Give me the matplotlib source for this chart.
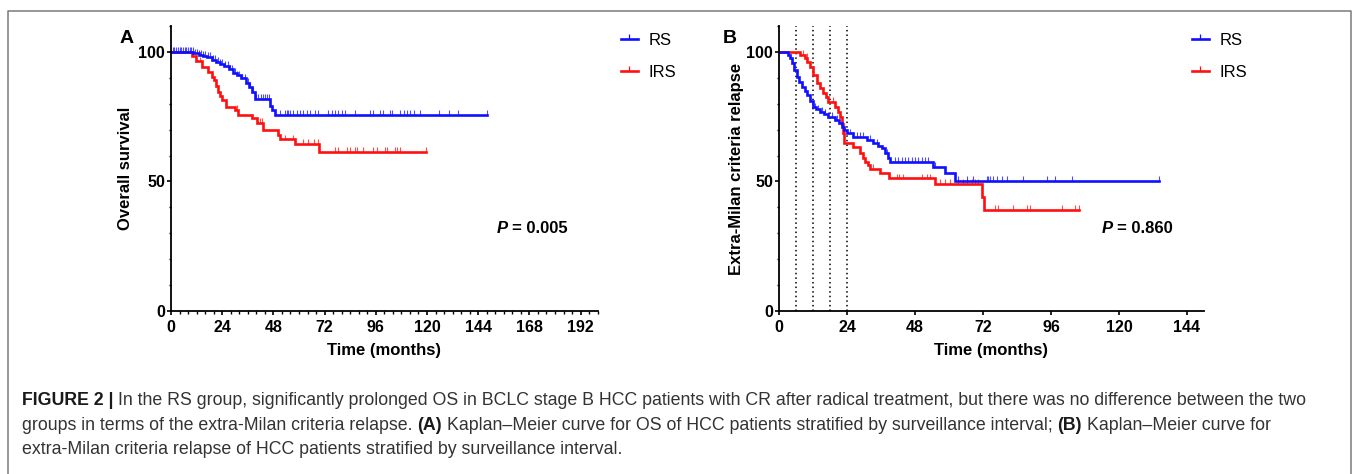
import numpy as np
import matplotlib
matplotlib.use('Agg')
import matplotlib.pyplot as plt
from matplotlib.lines import Line2D
from matplotlib.path import Path
from matplotlib.ticker import MultipleLocator
from matplotlib.transforms import IdentityTransform

plt.rcParams['font.family'] = ['Liberation Sans', 'DejaVu Sans']

W, H = 1357, 474

# (A) overall survival: Kaplan-Meier step times (months) and survival (%)
os_rs_t = [0, 10.5, 13, 15, 17, 19, 21, 23, 25, 27, 29, 31, 33, 35, 36.5, 38, 39.5, 46.5, 47.5, 48.8]
os_rs_v = [100, 99.5, 99, 98.5, 98, 97, 96.2, 95.5, 94.5, 93.3, 92, 91, 89.8, 88, 86.5, 84.5, 82, 79, 77.5, 75.7]
os_rs_end = 148.0
os_rs_cens = [0.8, 1.6, 2.4, 3.2, 4.0, 4.8, 5.6, 6.4, 7.2, 8.0, 8.8, 9.6, 10.4, 11.2, 12.0, 13.0,
              14.0, 15.0, 16.0, 17.5, 18.5, 19.5, 20.5, 22.0, 23.0, 24.0, 25.5, 26.5, 27.5, 28.5,
              30.0, 31.0, 32.0, 33.5, 34.5, 36.0, 37.0, 38.5, 40.0, 41.0, 42.0, 43.0, 44.0, 45.0,
              46.0, 51.1, 53.4, 54.2, 55.0, 55.8, 57.4, 58.9, 60.5, 62.1, 63.6, 65.2, 67.5, 69.1,
              73.8, 75.3, 76.9, 78.4, 80.0, 81.6, 86.3, 93.3, 94.9, 98.0, 99.6, 102.7, 103.5, 107.4,
              109.0, 110.5, 112.1, 113.7, 116.8, 125.4, 130.1, 134.7, 148.0]

os_irs_t = [0, 10, 11.5, 14.5, 17.5, 19, 20, 21, 22, 23, 24, 26, 30, 31.6, 37.8, 40.2, 43.3, 50.3,
            51, 58.1, 69.5]
os_irs_v = [100, 98.5, 96.3, 94.3, 92.4, 90.5, 89, 87, 84.7, 83, 81.5, 78.6, 77.6, 75.7, 74.4, 72.5,
            69.9, 68, 66.3, 64.5, 61.5]
os_irs_end = 119.5
os_irs_cens = [11.7, 13.6, 30.8, 41.7, 42.5, 50.3, 53.4, 57.4, 62.1, 64.4, 66.8, 69.1, 76.9, 78.4,
               82.3, 83.9, 86.3, 87.0, 90.2, 94.9, 96.4, 100.3, 101.1, 105.0, 105.8, 107.4, 119.5]

# (B) extra-Milan criteria relapse
em_rs_t = [0, 3.3, 4, 4.5, 5.3, 6.2, 7, 8, 9, 9.8, 11, 12.1, 13, 14.5, 16, 17.4, 19.8, 21, 22.1, 23,
           23.9, 26.2, 30.9, 33.3, 35, 36.2, 37.4, 38.3, 39.2, 54.5, 58.6, 62.2]
em_rs_v = [100, 98.8, 97.5, 95.6, 93, 90.5, 88.5, 86.6, 85, 83.4, 81, 78.6, 77.8, 77, 76, 75, 73.7,
           72.5, 71.2, 70, 68.6, 67.3, 66, 64.7, 63.8, 62.8, 60.9, 59.2, 57.6, 55.7, 53.2, 50.3]
em_rs_end = 134.2
em_rs_cens = [12.7, 13.9, 15.1, 16.2, 17.4, 18.6, 20.4, 25.1, 26.2, 27.4, 28.6, 29.8, 32.1, 34.5,
              38.0, 40.9, 42.1, 43.3, 44.5, 45.7, 46.8, 48.0, 49.2, 50.4, 51.5, 52.7, 55.1, 58.6,
              63.3, 66.3, 68.6, 73.3, 73.9, 74.5, 75.7, 76.9, 78.6, 80.4, 86.2, 94.5, 97.4, 103.3,
              134.2]

em_irs_t = [0, 7.4, 9.2, 10, 11, 12.1, 13.3, 14.5, 15.6, 16.5, 17.4, 19.8, 20.7, 21.5, 22.2, 22.7,
            23, 26.2, 28.6, 29.5, 30.4, 31.3, 32.2, 35.8, 38.7, 55.1, 71.6, 72.4]
em_irs_v = [100, 99, 97.6, 96, 94.3, 91.1, 87.9, 86, 84, 82.5, 80.8, 78.9, 77, 75, 72, 68.6, 64.7,
            63.4, 60.9, 59.2, 57.6, 56.2, 55, 53.2, 51.2, 49, 44.1, 39]
em_irs_end = 106.0
em_irs_cens = [8.6, 9.8, 12.1, 14.5, 19.2, 33.3, 41.5, 42.5, 43.9, 50.4, 52.1, 53.3, 56.8, 58.6,
               60.4, 63.3, 65.1, 66.3, 68.0, 69.2, 70.4, 76.2, 77.4, 82.7, 87.4, 88.6, 99.8, 104.5,
               106.0]

surveil_lines = [6, 12, 18, 24]

group_names = ['RS', 'IRS']
blue, red = '#1010ff', '#ff1010'


def km(ax, t, v, t_end, cens, color):
    tt = np.array(t + [t_end])
    vv = np.array(v + [v[-1]])
    ax.step(tt, vv, where='post', color=color, lw=1.9, solid_joinstyle='miter')
    idx = np.searchsorted(np.array(t), np.array(cens), side='right') - 1
    lev = np.array(v)[idx]
    ax.vlines(cens, lev, lev + 1.8, color=color, lw=0.8, alpha=0.75)


def style_axes(ax, xmax, xmajor, xminor):
    ax.set_xlim(0, xmax)
    ax.set_ylim(0, 110)
    for s in ['top', 'right']:
        ax.spines[s].set_visible(False)
    for s in ['left', 'bottom']:
        ax.spines[s].set_linewidth(1.3)
    ax.set_xticks(np.arange(0, xmax, xmajor))
    if xminor:
        ax.xaxis.set_minor_locator(MultipleLocator(xminor))
    ax.set_yticks([0, 50, 100])
    ax.yaxis.set_minor_locator(MultipleLocator(10))
    ax.tick_params(which='major', length=3.2, width=1.2, labelsize=11.5, direction='out')
    ax.tick_params(which='minor', length=1.8, width=1.0, direction='out')
    ax.tick_params(axis='y', pad=1)
    ax.tick_params(axis='x', pad=3)
    for lab in ax.get_xticklabels() + ax.get_yticklabels():
        lab.set_fontweight('bold')


tick_up = Path([(0, 0), (0, 1)], [Path.MOVETO, Path.LINETO])


def legend(ax, x, y):
    hs = [Line2D([], [], color=blue, lw=1.9, marker=tick_up, markersize=7, markeredgewidth=0.9),
          Line2D([], [], color=red, lw=1.9, marker=tick_up, markersize=7, markeredgewidth=0.9)]
    ax.legend(hs, group_names, loc='upper left', bbox_to_anchor=(x / W, 1 - y / H),
              bbox_transform=ax.figure.transFigure, frameon=False, fontsize=12,
              handlelength=1.0, handletextpad=0.65, labelspacing=1.0, borderpad=0,
              borderaxespad=0)


fig = plt.figure(figsize=(W / 100, H / 100), dpi=100)
axA = fig.add_axes([171 / W, 1 - 311 / H, 426.7 / W, 285 / H])
axB = fig.add_axes([779 / W, 1 - 311 / H, 425 / W, 285 / H])

km(axA, os_irs_t, os_irs_v, os_irs_end, os_irs_cens, red)
km(axA, os_rs_t, os_rs_v, os_rs_end, os_rs_cens, blue)
style_axes(axA, 200, 24, 4)
axA.set_xlabel('Time (months)', fontsize=12, fontweight='bold', labelpad=6)
axA.set_ylabel('Overall survival', fontsize=12, fontweight='bold', labelpad=4)
legend(axA, 621, 33)

for xv in surveil_lines:
    axB.axvline(xv, color='black', lw=1.1, ls=(0, (1, 2)))
km(axB, em_irs_t, em_irs_v, em_irs_end, em_irs_cens, red)
km(axB, em_rs_t, em_rs_v, em_rs_end, em_rs_cens, blue)
style_axes(axB, 150, 24, None)
axB.set_xlabel('Time (months)', fontsize=12, fontweight='bold', labelpad=6)
axB.set_ylabel('Extra-Milan criteria relapse', fontsize=12, fontweight='bold', labelpad=1.5)
legend(axB, 1192, 33)

fig.text(127 / W, 1 - 43 / H, 'A', fontsize=14, fontweight='bold', ha='center')
fig.text(730 / W, 1 - 43 / H, 'B', fontsize=14, fontweight='bold', ha='center')

# outer frame, open at the bottom
frame = dict(color='#7a7a7a', lw=1.1, transform=IdentityTransform())
fig.add_artist(Line2D([7.5, 7.5, 1351, 1351], [0, H - 10.5, H - 10.5, 0], **frame))

renderer = fig.canvas.get_renderer()


def text_width(s, **kw):
    t = fig.text(0, 0, s, transform=IdentityTransform(), **kw)
    w = t.get_window_extent(renderer).width
    t.remove()
    return w


def runs(x, y, parts, base):
    # draw consecutive text pieces with different weights on one baseline
    for s, extra in parts:
        kw = dict(base, **extra)
        lead = len(s) - len(s.lstrip(' '))
        trail = len(s) - len(s.rstrip(' '))
        sp = text_width('a a', **kw) - text_width('aa', **kw)
        x += lead * sp
        core = s.strip(' ')
        fig.text(x, y, core, transform=IdentityTransform(), va='baseline', **kw)
        x += text_width(core, **kw) + trail * sp
    return x


def runs_width(parts, base):
    x = 0
    for s, extra in parts:
        kw = dict(base, **extra)
        sp = text_width('a a', **kw) - text_width('aa', **kw)
        x += (len(s) - len(s.strip(' '))) * sp + text_width(s.strip(' '), **kw)
    return x


p_base = dict(fontsize=12, fontweight='bold', color='black')
for right, val in [(568, '0.005'), (1173, '0.860')]:
    parts = [('P', dict(fontstyle='italic')), (' = ' + val, {})]
    runs(right - runs_width(parts, p_base), H - 233, parts, p_base)

cap = dict(fontsize=12.75, family=['Liberation Sans', 'DejaVu Sans'], color='#333333')
bold = dict(fontweight='bold', color='#1a1a1a')
caption = [
    [('FIGURE 2 | ', bold),
     ('In the RS group, significantly prolonged OS in BCLC stage B HCC patients with CR after '
      'radical treatment, but there was no difference between the two', {})],
    [('groups in terms of the extra-Milan criteria relapse. ', {}), ('(A)', bold),
     (' Kaplan\u2013Meier curve for OS of HCC patients stratified by surveillance interval; ', {}),
     ('(B)', bold), (' Kaplan\u2013Meier curve for', {})],
    [('extra-Milan criteria relapse of HCC patients stratified by surveillance interval.', {})],
]
for i, line in enumerate(caption):
    runs(22, H - (405 + 24.5 * i), line, cap)

fig.savefig('out.png', dpi=100)
